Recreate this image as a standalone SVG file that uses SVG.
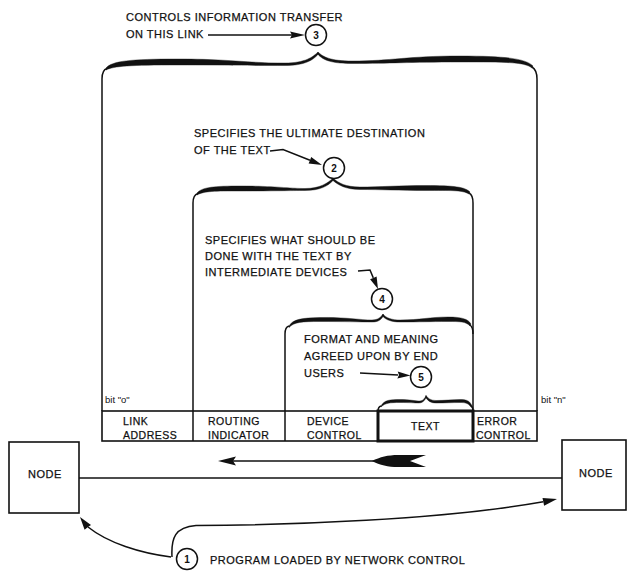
<svg xmlns="http://www.w3.org/2000/svg" width="627" height="574" viewBox="0 0 627 574">
  <style>
    .t { font-family: "Liberation Sans", Arial, sans-serif; font-size: 11px; letter-spacing: 0.5px; fill: #111; stroke: #111; stroke-width: 0.25; }
    .f { font-family: "Liberation Sans", Arial, sans-serif; font-size: 10.5px; letter-spacing: 0.5px; fill: #111; stroke: #111; stroke-width: 0.25; }
    .b { font-family: "Liberation Sans", Arial, sans-serif; font-size: 9.5px; fill: #111; }
    .n { font-family: "Liberation Sans", Arial, sans-serif; font-size: 10px; font-weight: bold; fill: #111; text-anchor: middle; }
    .ln { fill: none; stroke: #111; stroke-width: 1.5; }
    .arm { fill: #111; stroke: #111; stroke-width: 0.4; stroke-linejoin: round; }
    .box { fill: #fff; stroke: #111; stroke-width: 1.6; }
    .circ { fill: #fff; stroke: #111; stroke-width: 1.5; }
    .head { fill: #111; stroke: none; }
  </style>
  <rect width="627" height="574" fill="#fff"/>

  <!-- frame layout -->
  <g id="frame">
    <rect class="box" x="102" y="411" width="435" height="30"/>
    <line class="ln" x1="193" y1="411" x2="193" y2="441"/>
    <line class="ln" x1="285" y1="411" x2="285" y2="441"/>
    <rect x="378" y="411" width="95" height="30" fill="#fff" stroke="#111" stroke-width="3"/>
    <text class="f" x="123" y="424.5">LINK</text>
    <text class="f" x="123" y="438.5">ADDRESS</text>
    <text class="f" x="208" y="424.5">ROUTING</text>
    <text class="f" x="208" y="438.5">INDICATOR</text>
    <text class="f" x="307" y="424.5">DEVICE</text>
    <text class="f" x="307" y="438.5">CONTROL</text>
    <text class="f" x="425.5" y="430" text-anchor="middle">TEXT</text>
    <text class="f" x="477" y="424.5">ERROR</text>
    <text class="f" x="476" y="438.5">CONTROL</text>
    <text class="b" x="105" y="403">bit "o"</text>
    <text class="b" x="541" y="403">bit "n"</text>
  </g>

  <!-- brace 3: whole frame -->
  <g id="brace-link">
    <path class="ln" d="M102,411 L102,79 Q102,70 107,68.5"/>
    <path class="arm" d="M106,68 C112,61 130,59 178,59 C230,59 245,63 285,63 C305,63 313,57 318,52 L318,54.5 C313,60 305,65.5 285,65.5 C245,65.5 230,65 178,65 C130,65 114,66 106,70 Z"/>
    <path class="arm" d="M318,52 C323,57 331,61 352,61 C392,61 407,56 460,56 C508,56 526,59 533,66 L532,68 C524,62 508,62 460,62 C407,62 392,63.5 352,63.5 C331,63.5 323,60 318,54.5 Z"/>
    <path class="ln" d="M537,411 L537,79 Q537,70 532,67"/>
  </g>

  <!-- brace 2: routing indicator through text -->
  <g id="brace-routing">
    <path class="ln" d="M193,411 L193,203 Q193,195 198,193.5"/>
    <path class="arm" d="M197,193 C202,187 215,186 240,186 C275,186 290,188.5 305,188.5 C320,188.5 328,183 333,178 L333,180.5 C328,186 320,190.5 305,190.5 C290,190.5 275,191 240,191 C215,191 204,191 197,195 Z"/>
    <path class="arm" d="M333,178 C338,183 346,187 360,187 C380,187 400,185.5 425,185.5 C455,185.5 465,187 470,192 L469,194 C462,190 452,190.5 425,190.5 C400,190.5 380,189.5 360,189.5 C346,189.5 338,185 333,180.5 Z"/>
    <path class="ln" d="M473,411 L473,203 Q473,195 469,193"/>
  </g>

  <!-- brace 4: device control and text -->
  <g id="brace-device">
    <path class="ln" d="M285,411 L285,334 Q285,327 289,326"/>
    <path class="arm" d="M289,326 C293,319 302,318 320,317.5 C345,317 360,320 372,320 C378,320 381,317 383,314 L383,316.5 C381,320 378,322 372,322 C360,322 345,321.5 320,321.5 C302,321.5 294,322 289,327.5 Z"/>
    <path class="arm" d="M383,314 C386,318 392,320 400,320 C420,320 430,317 448,317 C462,317 468,319 471,324 L470,326 C466,321.5 460,321.5 448,321.5 C430,321.5 420,322 400,322 C392,322 386,320 383,316.5 Z"/>
    <path class="ln" d="M473,334 Q473,327 470,325"/>
  </g>

  <!-- brace 5: text field -->
  <g id="brace-text">
    <path class="ln" d="M378,411 Q378,407 381,406"/>
    <path class="arm" d="M381,406 C384,400 390,399.5 400,399.5 C410,399.5 415,401 420,401 C423,401 425,398 426,395.5 L426,398 C424,401.5 422,403 419,403 C414,403 410,402.5 400,402.5 C390,402.5 385,403 381,407 Z"/>
    <path class="arm" d="M426,395.5 C428,398.5 431,400.5 436,400.5 C445,400.5 452,399.5 460,399.5 C467,399.5 470,401 472,406 L471,407 C468,403 465,402.5 460,402.5 C452,402.5 445,403 436,403 C431,403 428,401 426,398 Z"/>
    <path class="ln" d="M473,411 Q473,407 471,406"/>
  </g>

  <!-- nodes -->
  <g id="node-left">
    <rect class="box" x="9" y="442" width="70" height="71"/>
    <text class="t" x="28" y="478">NODE</text>
  </g>
  <g id="node-right">
    <rect class="box" x="562" y="440" width="64" height="70"/>
    <text class="t" x="579" y="477">NODE</text>
  </g>

  <!-- numbered notes -->
  <g id="note-3">
    <text class="t" x="126" y="20.5">CONTROLS INFORMATION TRANSFER</text>
    <text class="t" x="126" y="38">ON THIS LINK</text>
    <circle class="circ" cx="316" cy="35" r="10.5"/>
    <text class="n" x="316" y="38.5">3</text>
  </g>
  <g id="note-2">
    <text class="t" x="194" y="137">SPECIFIES THE ULTIMATE DESTINATION</text>
    <text class="t" x="194" y="154">OF THE TEXT</text>
    <circle class="circ" cx="334" cy="168" r="10.5"/>
    <text class="n" x="334" y="171.5">2</text>
  </g>
  <g id="note-4">
    <text class="t" x="205" y="244">SPECIFIES WHAT SHOULD BE</text>
    <text class="t" x="205" y="260">DONE WITH THE TEXT BY</text>
    <text class="t" x="205" y="276">INTERMEDIATE DEVICES</text>
    <circle class="circ" cx="382" cy="299" r="10.5"/>
    <text class="n" x="382" y="302.5">4</text>
  </g>
  <g id="note-5">
    <text class="t" x="304" y="343">FORMAT AND MEANING</text>
    <text class="t" x="304" y="360">AGREED UPON BY END</text>
    <text class="t" x="304" y="377">USERS</text>
    <circle class="circ" cx="421" cy="377" r="10.5"/>
    <text class="n" x="421" y="380.5">5</text>
  </g>
  <g id="note-1">
    <circle class="circ" cx="187" cy="559" r="10.5"/>
    <text class="n" x="187" y="562.5">1</text>
    <text class="t" x="210" y="564">PROGRAM LOADED BY NETWORK CONTROL</text>
  </g>

  <!-- connectors -->
  <g id="connectors">
    <!-- pointer arrows to the numbered circles -->
    <line class="ln" x1="208" y1="35" x2="292" y2="35" stroke-width="1.2"/>
    <polygon class="head" points="305,35 290,31.5 292,35 290,38.5"/>
    <polyline class="ln" points="270,151 283,149.5 310,160.3" stroke-width="1.2"/>
    <polygon class="head" points="322,165 311.2,156.95 310,160.3 308.6,163.45"/>
    <polyline class="ln" points="358,271 370,270 373.3,277.9" stroke-width="1.2"/>
    <polygon class="head" points="378,289 376.6,276.6 373.3,277.9 370.1,279.3"/>
    <line class="ln" x1="360" y1="373" x2="398" y2="374.9" stroke-width="1.2"/>
    <polygon class="head" points="410.5,375.5 397.7,371.4 399,375 397.3,378.4"/>

    <!-- link between the nodes -->
    <line class="ln" x1="79" y1="478" x2="562" y2="478" stroke-width="1.3"/>

    <!-- direction of transmission -->
    <line class="ln" x1="232" y1="461" x2="380" y2="461"/>
    <path class="head" d="M218,461 L236,456.5 L233,461 L236,465.5 Z"/>
    <path class="head" d="M372,461 C380,457 388,455 398,455 L426,455 L410,461 L426,467 L398,467 C388,467 380,465 372,461 Z"/>

    <!-- program loading paths -->
    <path class="ln" d="M171,557 C140,553 108,543 88,527"/>
    <polygon class="head" points="80,517 91,525 88,527 84.6,529.8"/>
    <path class="ln" d="M172,557 C171,538 175,527 196,525.5 C290,525 440,520 543.3,501.8"/>
    <polygon class="head" points="557,499 542.5,497.9 543.3,501.8 544.1,505.7"/>
  </g>
</svg>
